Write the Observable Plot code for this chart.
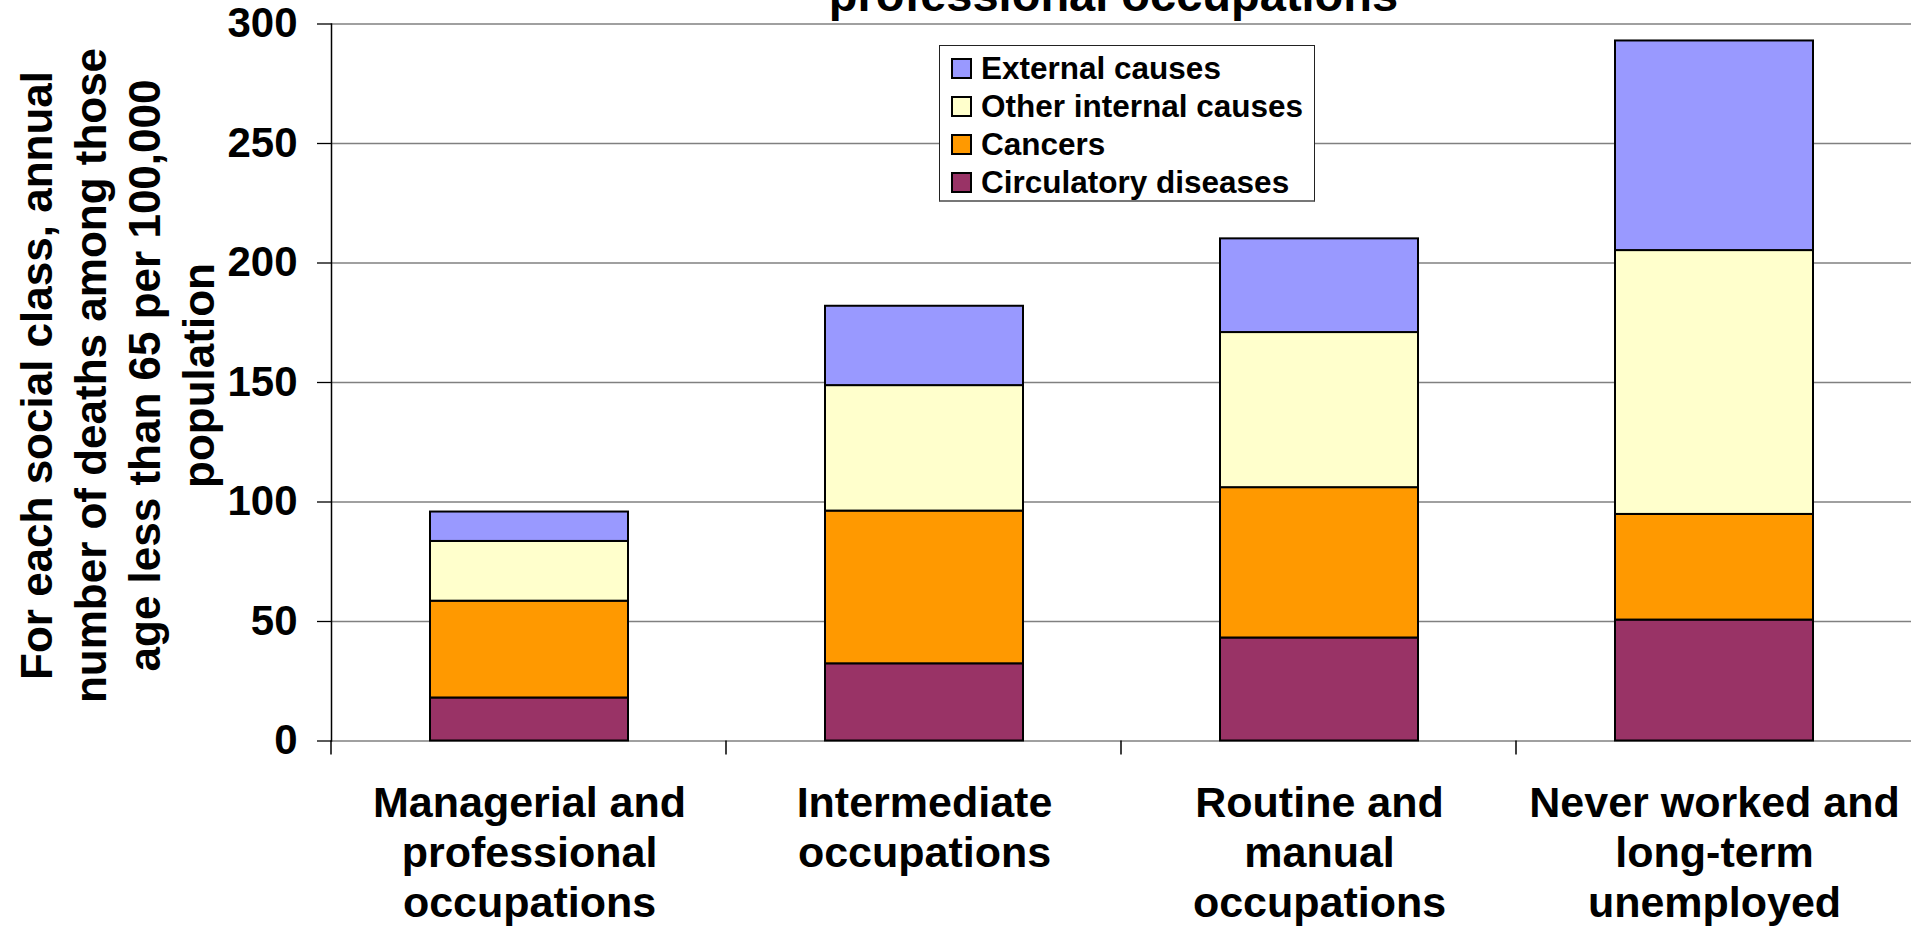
<!DOCTYPE html>
<html><head><meta charset="utf-8">
<script src="https://cdn.jsdelivr.net/npm/d3@7"></script>
<script src="https://cdn.jsdelivr.net/npm/@observablehq/plot@0.6"></script>
<style>
html,body{margin:0;padding:0;background:#fff;}
#chart{position:relative;width:1911px;height:929px;overflow:hidden;font-family:"Liberation Sans",Arial,sans-serif;}
#legend{position:absolute;left:939px;top:45px;width:376px;height:157px;box-sizing:border-box;border:1px solid #222;border-bottom:2px solid #777;background:#fff;padding-top:3px;font-weight:bold;font-size:31.5px;color:#000;}
#legend .row{display:flex;align-items:center;height:38px;line-height:38px;}
#legend .sw{width:21px;height:21px;box-sizing:border-box;border:2px solid #000;margin-left:11px;margin-right:9px;}
</style>
</head><body>
<div id="chart"></div>
<script>
const categories = [
  "Managerial and\nprofessional\noccupations",
  "Intermediate\noccupations",
  "Routine and\nmanual\noccupations",
  "Never worked and\nlong-term\nunemployed"
];
const causes = ["Circulatory diseases", "Cancers", "Other internal causes", "External causes"];
const circulatory   = [18.0, 32.3, 43.1, 50.6];
const cancers       = [40.5, 63.9, 62.9, 44.2];
const otherInternal = [25.0, 52.5, 64.9, 110.4];
const external      = [12.3, 33.2, 39.2, 87.7];
const colors = ["#993366", "#FF9900", "#FFFFCC", "#9999FF"];
const yTicks = [0, 50, 100, 150, 200, 250, 300];
const titleText = "professional occupations";
const yTitle = "For each social class, annual\nnumber of deaths among those\nage less than 65 per 100,000\npopulation";
const legendOrder = ["External causes", "Other internal causes", "Cancers", "Circulatory diseases"];

const series = [circulatory, cancers, otherInternal, external];
const table = [];
categories.forEach((c, i) => {
  causes.forEach((k, j) => table.push({category: c, cause: k, value: series[j][i]}));
});

const font = "'Liberation Sans', Arial, sans-serif";

function boundaryTicks(index, scales, values, dimensions) {
  const x = scales.x, y = scales.y;
  const bw = x.bandwidth();
  const y0 = y(0);
  const g = d3.create("svg:g").attr("stroke", "#000").attr("stroke-width", 1.5);
  const xs = categories.map(c => x(c) - bw / 2);
  xs.push(x(categories[categories.length - 1]) + bw * 1.5);
  for (const px of xs) {
    g.append("line").attr("x1", px).attr("x2", px).attr("y1", y0).attr("y2", y0 + 14);
  }
  return g.node();
}

const plot = Plot.plot({
  width: 1911,
  height: 929,
  marginLeft: 331,
  marginRight: 0,
  marginTop: 23.5,
  marginBottom: 188.5,
  style: {fontFamily: font, color: "#000", background: "#fff", overflow: "visible"},
  x: {domain: categories, paddingInner: 0.5, paddingOuter: 0.25, label: null},
  y: {domain: [0, 300], label: null},
  color: {domain: causes, range: colors},
  marks: [
    Plot.ruleY(yTicks, {stroke: "#808080", strokeWidth: 1.3}),
    Plot.barY(table, {x: "category", y: "value", fill: "cause", stroke: "#000", strokeWidth: 2}),
    Plot.frame({anchor: "left", stroke: "#000", strokeWidth: 1.5}),
    boundaryTicks,
    Plot.axisY({ticks: yTicks, tickSize: 14, tickPadding: 20, fontSize: 42, fontWeight: "bold", label: null, strokeWidth: 1.3}),
    Plot.axisX({tickSize: 0, tickPadding: 41, fontSize: 43, fontWeight: "bold", lineHeight: 1.16, label: null}),
    Plot.text([titleText], {text: d => d, frameAnchor: "top", dx: -8, dy: -13.5, lineAnchor: "bottom", fontSize: 47, fontWeight: "bold"}),
    Plot.text([yTitle], {text: d => d, frameAnchor: "left", dx: -216, dy: -7, rotate: -90, fontSize: 44, fontWeight: "bold", lineHeight: 1.23, textAnchor: "middle"})
  ]
});

const chart = document.getElementById("chart");
chart.appendChild(plot);

const legend = document.createElement("div");
legend.id = "legend";
legendOrder.forEach(name => {
  const row = document.createElement("div");
  row.className = "row";
  const sw = document.createElement("div");
  sw.className = "sw";
  sw.style.background = colors[causes.indexOf(name)];
  const label = document.createElement("span");
  label.textContent = name;
  row.appendChild(sw);
  row.appendChild(label);
  legend.appendChild(row);
});
chart.appendChild(legend);
</script>
</body></html>
